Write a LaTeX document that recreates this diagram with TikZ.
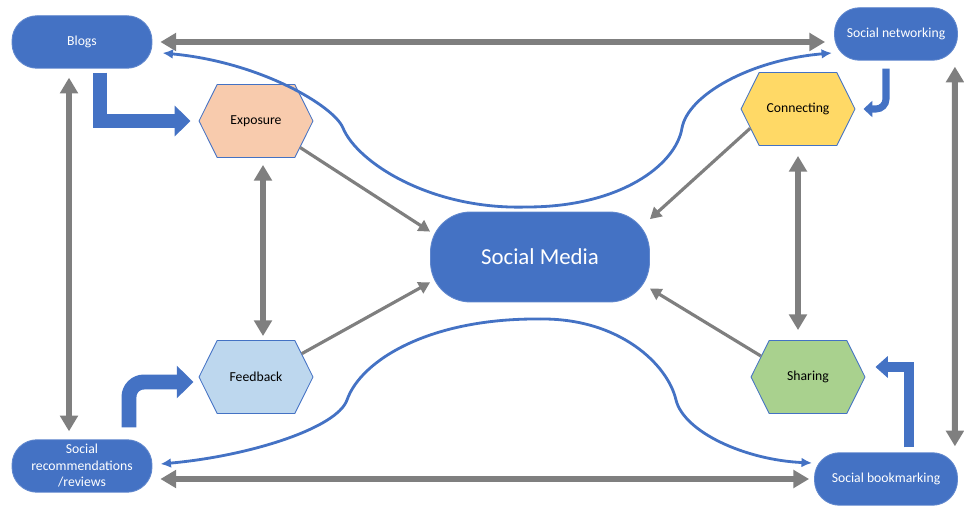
\documentclass[tikz,border=0pt]{standalone}
\usepackage{fontspec}
\setmainfont{Carlito}
\definecolor{smblue}{RGB}{68,114,196}
\definecolor{smgray}{RGB}{127,127,127}
\definecolor{exposurefill}{RGB}{248,203,173}
\definecolor{connectfill}{RGB}{255,217,102}
\definecolor{feedbackfill}{RGB}{189,215,238}
\definecolor{sharefill}{RGB}{169,209,142}
\usetikzlibrary{shapes.symbols, arrows.meta, positioning, calc}

\begin{document}
\begin{tikzpicture}[x=0.02cm, y=-0.02cm,
  pill/.style={draw=smblue!85!white, line width=0.5pt, fill=smblue, text=white,
               rounded corners=0.5cm, inner sep=1pt, align=center,
               minimum height=1.05cm, font=\fontsize{7.8}{9.4}\selectfont},
  hexa/.style={signal, signal to=west and east, signal pointer angle=127,
               draw=smblue, line width=0.5pt, minimum width=2.28cm,
               minimum height=1.46cm, inner sep=0pt, font=\fontsize{7.8}{9.4}\selectfont},
  link/.style={smgray, line width=3.4pt,
               {Triangle[length=9pt,width=10pt]}-{Triangle[length=9pt,width=10pt]}},
  feed/.style={smgray, line width=1.8pt, -{Triangle[length=6.5pt,width=7pt]}},
  swoop/.style={smblue, line width=1.6pt, -{Latex[length=6pt,width=5.5pt]}},
  turn/.style={smblue, line join=miter},
]
\useasboundingbox (0,0) rectangle (964,506);

% Platforms and centre
\node[pill, minimum width=2.8cm] (blogs) at (82,42) {Blogs};
\node[pill, minimum width=2.46cm] (socnet) at (896,34) {Social networking};
\node[pill, minimum width=2.8cm] (socrec) at (82,466) {Social\\recommendations\\/reviews};
\node[pill, minimum width=2.86cm] (bookmark) at (886,479) {Social bookmarking};
\node[pill, minimum width=4.38cm, minimum height=1.8cm, rounded corners=0.8cm,
      font=\fontsize{13}{15}\selectfont] (media) at (540,257) {Social Media};

% Activities
\node[hexa, fill=exposurefill] (expo) at (256,121) {Exposure};
\node[hexa, fill=connectfill] (conn) at (798,109) {Connecting};
\node[hexa, fill=feedbackfill] (feedb) at (256,377) {Feedback};
\node[hexa, fill=sharefill] (share) at (808,377) {Sharing};

% Gray links round the outside
\draw[link, shorten <=0.16cm, shorten >=0.18cm] (blogs.east) -- (blogs.east -| socnet.west);
\draw[link, shorten <=0.16cm, shorten >=0.1cm] (socrec.east |- bookmark.west) -- (bookmark.west);
\draw[link, shorten <=0.18cm, shorten >=0.16cm] ([xshift=-0.26cm]blogs.south) -- ([xshift=-0.26cm]socrec.north);
\draw[link, shorten <=0.12cm, shorten >=0.12cm] ([xshift=-0.06cm]socnet.south east) -- ([xshift=-0.06cm]bookmark.north east);
\draw[link, shorten <=0.14cm, shorten >=0.08cm] ([xshift=0.14cm]expo.south) -- ([xshift=0.14cm]feedb.north);
\draw[link, shorten <=0.2cm, shorten >=0.2cm] (conn.south) -- (conn.south |- share.north);

% Into the centre
\draw[feed] (expo.-31) -- (media.167);
\draw[feed] (feedb.27) -- (media.193);
\draw[feed] (conn.202) -- (media.19.5);
\draw[feed] (share.156) -- (media.-16);

% Blue swoops
\coordinate (topjoin) at (527,207);
\coordinate (lowjoin) at (540,319);
\draw[swoop] (topjoin) .. controls (430,210) and (357,162) .. (343,128)
  .. controls (334,106) and (260,62) .. ([xshift=0.2cm,yshift=-0.22cm]blogs.east);
\draw[swoop] (topjoin) .. controls (620,207) and (676,165) .. (682,128)
  .. controls (688,95) and (750,60) .. ([xshift=-0.04cm,yshift=-0.38cm]socnet.west);
\draw[swoop] (lowjoin) .. controls (430,318) and (361,360) .. (347,400)
  .. controls (337,428) and (250,456) .. ([xshift=0.16cm,yshift=0.04cm]socrec.east);
\draw[swoop] (lowjoin) .. controls (620,318) and (668,365) .. (676,400)
  .. controls (684,432) and (745,460) .. ([xshift=-0.04cm,yshift=0.32cm]bookmark.west);

% Bent arrows from the platforms
\draw[turn, line width=8.5pt, -{Triangle[length=9pt,width=17pt]}]
  ([xshift=0.36cm,yshift=-0.08cm]blogs.south) |- ([xshift=-0.16cm]expo.west);
\draw[turn, line width=8.5pt, rounded corners=0.3cm, -{Triangle[length=9.5pt,width=18pt]}]
  ([xshift=0.94cm,yshift=0.24cm]socrec.north) |- ([xshift=-0.1cm,yshift=-0.1cm]feedb.west);
\draw[turn, line width=4pt, rounded corners=0.2cm, -{Triangle[length=5pt,width=9pt]}]
  ([xshift=-0.2cm,yshift=-0.16cm]socnet.south) |- ([xshift=0.16cm]conn.east);
\draw[turn, line width=5.7pt, -{Triangle[length=7pt,width=12pt]}]
  ([xshift=0.46cm,yshift=0.1cm]bookmark.north) |- ([xshift=0.2cm,yshift=0.2cm]share.east);
\end{tikzpicture}
\end{document}
